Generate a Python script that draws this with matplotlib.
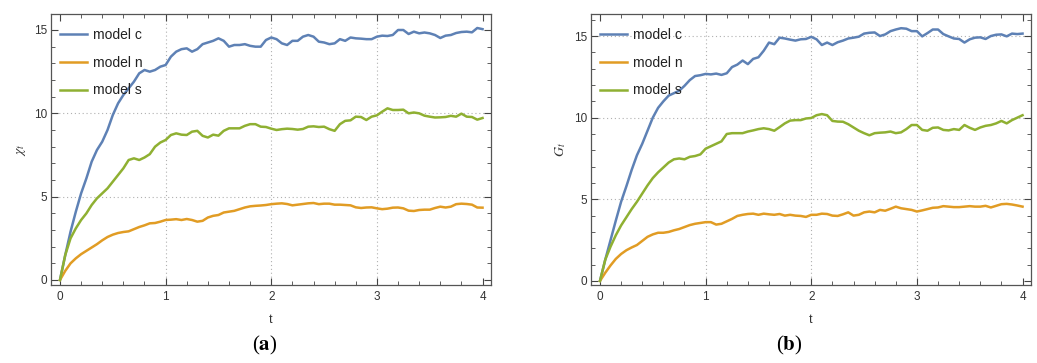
import matplotlib.pyplot as plt
import numpy as np
from matplotlib.ticker import MultipleLocator

# tiempo (paso 0.05)
t = np.round(np.arange(0, 4.0001, 0.05), 2)

# ----- panel (a) -----
chi_c = [0, 1.5, 2.9, 4.1, 5.2, 6.1, 7.1, 7.8, 8.3, 9.0, 9.9, 10.6, 11.1, 11.5, 11.9, 12.4, 12.6, 12.5, 12.6, 12.8, 12.9,
         13.4, 13.7, 13.85, 13.9, 13.7, 13.85, 14.15, 14.25, 14.35, 14.5, 14.35, 14.0, 14.1, 14.1, 14.15, 14.05, 14.0, 14.0, 14.4, 14.55,
         14.45, 14.2, 14.1, 14.35, 14.35, 14.6, 14.7, 14.6, 14.3, 14.25, 14.15, 14.2, 14.45, 14.35, 14.55, 14.5, 14.48, 14.45, 14.45, 14.6,
         14.66, 14.64, 14.7, 15.0, 15.0, 14.76, 14.9, 14.8, 14.85, 14.8, 14.7, 14.52, 14.66, 14.7, 14.82, 14.88, 14.9, 14.86, 15.12, 15.05]
chi_n = [0, 0.55, 1.0, 1.3, 1.55, 1.75, 1.95, 2.15, 2.38, 2.58, 2.72, 2.82, 2.88, 2.92, 3.05, 3.18, 3.28, 3.4, 3.42, 3.5, 3.6,
         3.62, 3.65, 3.6, 3.66, 3.6, 3.5, 3.55, 3.75, 3.85, 3.9, 4.05, 4.1, 4.15, 4.25, 4.35, 4.42, 4.45, 4.47, 4.5, 4.55,
         4.58, 4.6, 4.56, 4.48, 4.52, 4.56, 4.6, 4.62, 4.55, 4.58, 4.58, 4.52, 4.52, 4.5, 4.48, 4.36, 4.32, 4.35, 4.36, 4.3,
         4.25, 4.28, 4.34, 4.35, 4.3, 4.16, 4.14, 4.2, 4.22, 4.22, 4.32, 4.4, 4.35, 4.4, 4.55, 4.58, 4.56, 4.52, 4.35, 4.34]
chi_s = [0, 1.5, 2.5, 3.1, 3.6, 4.0, 4.5, 4.9, 5.2, 5.5, 5.9, 6.3, 6.7, 7.2, 7.3, 7.2, 7.35, 7.55, 8.0, 8.25, 8.4,
         8.7, 8.8, 8.72, 8.7, 8.9, 8.95, 8.65, 8.55, 8.72, 8.66, 8.95, 9.1, 9.1, 9.1, 9.25, 9.35, 9.35, 9.2, 9.18, 9.08,
         9.0, 9.05, 9.08, 9.06, 9.02, 9.06, 9.2, 9.22, 9.18, 9.2, 9.05, 8.95, 9.35, 9.55, 9.58, 9.8, 9.78, 9.6, 9.8, 9.88,
         10.1, 10.3, 10.2, 10.2, 10.22, 10.0, 10.05, 10.0, 9.86, 9.8, 9.75, 9.76, 9.78, 9.85, 9.8, 9.98, 9.8, 9.78, 9.62, 9.72]

# ----- panel (b) -----
g_c = [0, 1.3, 2.5, 3.7, 4.85, 5.8, 6.8, 7.7, 8.4, 9.2, 10.0, 10.6, 11.0, 11.35, 11.5, 11.65, 11.95, 12.3, 12.55, 12.6, 12.68,
       12.65, 12.7, 12.62, 12.72, 13.1, 13.25, 13.5, 13.28, 13.6, 13.7, 14.1, 14.6, 14.5, 14.9, 14.85, 14.78, 14.72, 14.8, 14.82, 14.95,
       14.8, 14.45, 14.6, 14.45, 14.62, 14.72, 14.85, 14.9, 14.96, 15.15, 15.2, 15.22, 15.0, 15.1, 15.3, 15.4, 15.48, 15.45, 15.3, 15.3,
       14.98, 15.18, 15.4, 15.4, 15.12, 14.98, 14.85, 14.82, 14.6, 14.8, 14.9, 14.92, 14.82, 15.0, 15.08, 15.1, 14.98, 15.15, 15.12, 15.15]
g_n = [0, 0.5, 0.95, 1.35, 1.65, 1.88, 2.05, 2.2, 2.45, 2.7, 2.85, 2.95, 2.95, 3.0, 3.1, 3.18, 3.3, 3.42, 3.5, 3.55, 3.6,
       3.6, 3.45, 3.5, 3.65, 3.8, 3.98, 4.05, 4.1, 4.12, 4.05, 4.12, 4.08, 4.05, 4.1, 4.0, 4.05, 4.0, 3.98, 3.92, 4.05,
       4.05, 4.12, 4.1, 4.0, 3.98, 4.08, 4.2, 4.0, 4.05, 4.2, 4.25, 4.2, 4.35, 4.3, 4.42, 4.55, 4.45, 4.4, 4.35, 4.25,
       4.32, 4.4, 4.48, 4.5, 4.58, 4.55, 4.52, 4.52, 4.55, 4.58, 4.55, 4.55, 4.6, 4.5, 4.6, 4.7, 4.72, 4.68, 4.62, 4.55]
g_s = [0, 1.3, 2.1, 2.8, 3.4, 3.9, 4.4, 4.85, 5.35, 5.85, 6.3, 6.65, 6.95, 7.25, 7.45, 7.5, 7.45, 7.6, 7.65, 7.75, 8.1,
       8.25, 8.4, 8.55, 9.0, 9.05, 9.05, 9.05, 9.15, 9.22, 9.3, 9.35, 9.3, 9.2, 9.42, 9.65, 9.82, 9.85, 9.85, 9.95, 9.98,
       10.15, 10.22, 10.15, 9.8, 9.76, 9.75, 9.6, 9.4, 9.2, 9.05, 8.92, 9.05, 9.08, 9.1, 9.15, 9.05, 9.1, 9.3, 9.55, 9.55,
       9.25, 9.2, 9.38, 9.4, 9.25, 9.22, 9.3, 9.25, 9.55, 9.38, 9.25, 9.4, 9.5, 9.55, 9.65, 9.8, 9.65, 9.85, 10.0, 10.15]

rotulos = ['model c', 'model n', 'model s']
cores = ['#5E81B5', '#E19C24', '#8FB032']

plt.rcParams['font.family'] = ['Liberation Sans', 'DejaVu Sans']
plt.rcParams['mathtext.fontset'] = 'stix'

fig = plt.figure(figsize=(10.37, 3.63), dpi=100)
W, H = 1037, 363


def painel(pos, series, ylim, ylabel, grid_y, letra, xcap):
    ax = fig.add_axes(pos)
    for s, cor, nome in zip(series, cores, rotulos):
        ax.plot(t, s, color=cor, lw=1.8, label=nome)

    ax.set_xlim(-0.085, 4.08)
    ax.set_ylim(*ylim)
    ax.xaxis.set_major_locator(MultipleLocator(1))
    ax.xaxis.set_minor_locator(MultipleLocator(0.2))
    ax.yaxis.set_major_locator(MultipleLocator(5))
    ax.yaxis.set_minor_locator(MultipleLocator(1))
    ax.tick_params(which='both', direction='in', top=True, right=True,
                   color='#444444', labelsize=8.5, labelcolor='#333333')
    ax.tick_params(which='major', length=5, width=0.8)
    ax.tick_params(which='minor', length=3, width=0.6)
    ax.tick_params(axis='x', pad=4)
    ax.tick_params(axis='y', pad=3)
    for sp in ax.spines.values():
        sp.set_color('#555555')
        sp.set_linewidth(0.9)

    for gx in [1, 2, 3]:
        ax.axvline(gx, color='#b0b0b0', lw=0.8, ls=(0, (1, 2.5)), zorder=0)
    for gy in grid_y:
        ax.axhline(gy, color='#b0b0b0', lw=0.8, ls=(0, (1, 2.5)), zorder=0)

    ax.set_xlabel('t', fontsize=9, color='#333333', labelpad=8)
    ax.set_ylabel(ylabel, fontsize=10, color='#333333', labelpad=4)

    leg = ax.legend(loc='upper left', bbox_to_anchor=(0.012, 0.965), frameon=False,
                    fontsize=10, handlelength=1.9, handletextpad=0.45, labelspacing=1.0,
                    borderaxespad=0, borderpad=0.3)
    for txt in leg.get_texts():
        txt.set_color('#222222')

    fig.text(xcap / W, 1 - 345 / H, r'($\mathbf{' + letra + '}$)', ha='center', va='center',
             fontsize=15, family='Liberation Serif')
    return ax


painel([51 / W, 78 / H, 440 / W, 271 / H], [chi_c, chi_n, chi_s], (-0.3, 15.96),
       r'$\chi_t$', [5, 10], 'a', 265)
painel([591 / W, 78 / H, 440 / W, 271 / H], [g_c, g_n, g_s], (-0.25, 16.35),
       r'$G_t$', [5, 10, 15], 'b', 789)

fig.savefig('out.png', dpi=100)
